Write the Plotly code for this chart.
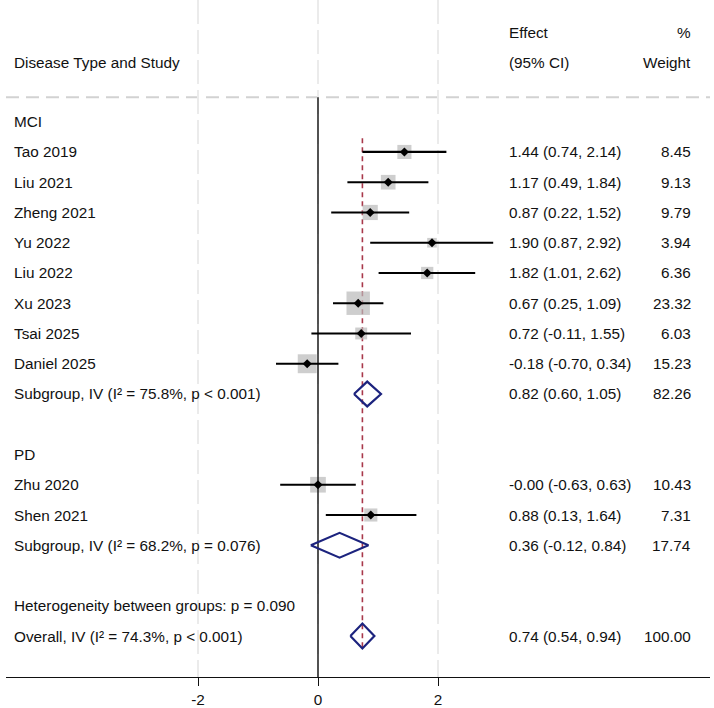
import plotly.graph_objects as go
import numpy as np

# ---------------- data ----------------
mci_studies = ["Tao 2019", "Liu 2021", "Zheng 2021", "Yu 2022", "Liu 2022", "Xu 2023", "Tsai 2025", "Daniel 2025"]
mci_effect = [1.44, 1.17, 0.87, 1.90, 1.82, 0.67, 0.72, -0.18]
mci_lo = [0.74, 0.49, 0.22, 0.87, 1.01, 0.25, -0.11, -0.70]
mci_hi = [2.14, 1.84, 1.52, 2.92, 2.62, 1.09, 1.55, 0.34]
mci_weight = [8.45, 9.13, 9.79, 3.94, 6.36, 23.32, 6.03, 15.23]

pd_studies = ["Zhu 2020", "Shen 2021"]
pd_effect = [-0.00, 0.88]
pd_lo = [-0.63, 0.13]
pd_hi = [0.63, 1.64]
pd_weight = [10.43, 7.31]

group_names = ["MCI", "PD"]
sub_labels = ["Subgroup, IV (I² = 75.8%, p < 0.001)", "Subgroup, IV (I² = 68.2%, p = 0.076)"]
sub_effect = [0.82, 0.36]
sub_lo = [0.60, -0.12]
sub_hi = [1.05, 0.84]
sub_weight = [82.26, 17.74]

het_label = "Heterogeneity between groups: p = 0.090"
overall_label = "Overall, IV (I² = 74.3%, p < 0.001)"
overall_effect = 0.74
overall_lo = 0.54
overall_hi = 0.94
overall_weight = 100.00

x_ticks = [-2, 0, 2]
x_tick_labels = ["-2", "0", "2"]

# ---------------- layout constants ----------------
W, H = 714, 708
PX_PER_UNIT = 60.0
X0_PX = 318.0          # pixel of x = 0
ML, MR, MB = 6, 4, 25
ROW0_PX = 122.8
ROW_PX = 30.52
plot_bottom_px = H - MB

def px2x(px):
    return (px - X0_PX) / PX_PER_UNIT

def py2row(py):
    return (py - ROW0_PX) / ROW_PX

x_range = [px2x(ML), px2x(W - MR)]
y_top = py2row(0)
y_bot = py2row(plot_bottom_px)

FONT = "Liberation Sans, Arial, Helvetica, sans-serif"
TXT = "#111111"
FS = 15.3
NAVY = "#1c237e"
RED = "#a8384a"
GRAYSQ = "#b9b9b9"

# ---------------- build rows ----------------
groups = [
    (group_names[0], mci_studies, mci_effect, mci_lo, mci_hi, mci_weight),
    (group_names[1], pd_studies, pd_effect, pd_lo, pd_hi, pd_weight),
]
study_rows, study_eff, study_lo, study_hi, study_w, study_names = [], [], [], [], [], []
header_rows = []
sub_rows = []
row = 0
for gi, (gname, names, eff, lo, hi, w) in enumerate(groups):
    header_rows.append((row, gname))
    row += 1
    for n, e, l, h, ww in zip(names, eff, lo, hi, w):
        study_rows.append(row); study_eff.append(e); study_lo.append(l)
        study_hi.append(h); study_w.append(ww); study_names.append(n)
        row += 1
    sub_rows.append(row)
    row += 2
het_row = row
overall_row = row + 1

fig = go.Figure()

# red dashed overall line (below squares)
fig.add_trace(go.Scatter(
    x=[overall_effect, overall_effect], y=[0.55, overall_row + 0.42],
    mode="lines", line=dict(color=RED, width=1.6, dash="5px,4px"),
    hoverinfo="skip", showlegend=False))

# gray weight squares
fig.add_trace(go.Scatter(
    x=study_eff, y=study_rows, mode="markers",
    marker=dict(symbol="square", size=[4.85 * np.sqrt(w) for w in study_w],
                color=GRAYSQ, line=dict(width=0)),
    hoverinfo="skip", showlegend=False))

# zero line (above squares)
sep_row = py2row(98)
fig.add_trace(go.Scatter(
    x=[0, 0], y=[sep_row, y_bot], mode="lines",
    line=dict(color="#111111", width=1.4),
    hoverinfo="skip", showlegend=False))

# CI lines
cx, cy = [], []
for r, l, h in zip(study_rows, study_lo, study_hi):
    cx += [l, h, None]
    cy += [r, r, None]
fig.add_trace(go.Scatter(
    x=cx, y=cy, mode="lines", line=dict(color="#000000", width=2.2),
    hoverinfo="skip", showlegend=False))

# point estimate diamonds
fig.add_trace(go.Scatter(
    x=study_eff, y=study_rows, mode="markers",
    marker=dict(symbol="diamond", size=7, color="#000000"),
    hoverinfo="skip", showlegend=False))

# pooled diamonds
dh = 0.41
dx, dy = [], []
for r, e, l, h in list(zip(sub_rows, sub_effect, sub_lo, sub_hi)) + [(overall_row, overall_effect, overall_lo, overall_hi)]:
    dx += [l, e, h, e, l, None]
    dy += [r, r - dh, r, r + dh, r, None]
fig.add_trace(go.Scatter(
    x=dx, y=dy, mode="lines", line=dict(color=NAVY, width=2.2),
    hoverinfo="skip", showlegend=False))

# ---------------- text ----------------
ann = []
x_left = px2x(12)
x_eff = px2x(507)
x_wt = px2x(693)

def add_text(x, y, s, anchor="left"):
    ann.append(dict(x=x, y=y, xref="x", yref="y", text=s, showarrow=False,
                    xanchor=anchor, yanchor="middle",
                    font=dict(family=FONT, size=FS, color=TXT)))

hdr1 = py2row(33)
hdr2 = py2row(63)
add_text(x_left, hdr2, "Disease Type and Study")
add_text(x_eff, hdr1, "Effect")
add_text(x_eff, hdr2, "(95% CI)")
add_text(x_wt, hdr1, "%", "right")
add_text(x_wt, hdr2, "Weight", "right")

for r, g in header_rows:
    add_text(x_left, r, g)
for r, n, e, l, h, w in zip(study_rows, study_names, study_eff, study_lo, study_hi, study_w):
    add_text(x_left, r, n)
    add_text(x_eff, r, f"{e:.2f} ({l:.2f}, {h:.2f})")
    add_text(x_wt, r, f"{w:.2f}", "right")
for r, lab, e, l, h, w in zip(sub_rows, sub_labels, sub_effect, sub_lo, sub_hi, sub_weight):
    add_text(x_left, r, lab)
    add_text(x_eff, r, f"{e:.2f} ({l:.2f}, {h:.2f})")
    add_text(x_wt, r, f"{w:.2f}", "right")
add_text(x_left, het_row, het_label)
add_text(x_left, overall_row, overall_label)
add_text(x_eff, overall_row, f"{overall_effect:.2f} ({overall_lo:.2f}, {overall_hi:.2f})")
add_text(x_wt, overall_row, f"{overall_weight:.2f}", "right")

fig.update_layout(
    width=W, height=H,
    margin=dict(l=ML, r=MR, t=0, b=MB, pad=0),
    paper_bgcolor="white", plot_bgcolor="white",
    annotations=ann,
    shapes=[dict(type="line", xref="paper", yref="y", x0=0, x1=1, y0=sep_row, y1=sep_row,
                 line=dict(color="#d2d2d2", width=2, dash="13px,7px"), layer="below")],
    xaxis=dict(range=x_range, tickvals=x_ticks, ticktext=x_tick_labels,
               showgrid=True, gridcolor="#ebebeb", gridwidth=1.5, griddash="24px,6px",
               zeroline=False, showline=True, linecolor="#111111", linewidth=1.4,
               ticks="outside", ticklen=8, tickwidth=1.3, tickcolor="#111111",
               tickfont=dict(family=FONT, size=FS, color=TXT), fixedrange=True),
    yaxis=dict(range=[y_bot, y_top], showgrid=False, zeroline=False, showline=False,
               showticklabels=False, ticks="", fixedrange=True),
    showlegend=False,
)

fig.write_html("out.html")
